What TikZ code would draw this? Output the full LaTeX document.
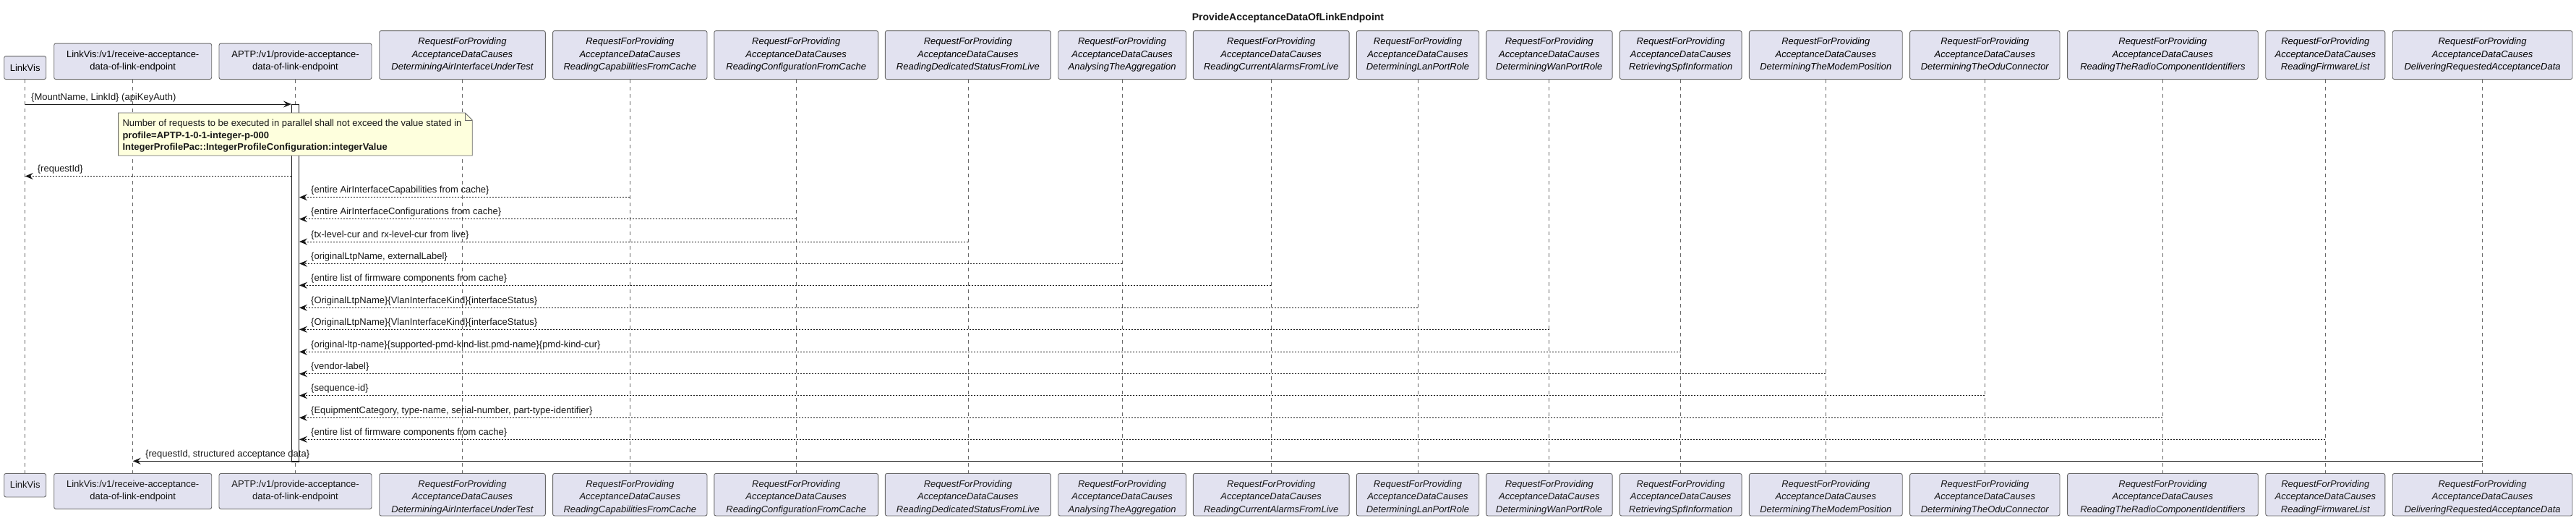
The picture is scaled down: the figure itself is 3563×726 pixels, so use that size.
\documentclass[tikz,border=0pt]{standalone}
\usepackage{fontspec}
\setmainfont{Liberation Sans}
\usetikzlibrary{arrows.meta}
\definecolor{partfill}{HTML}{E2E2F0}
\definecolor{notefill}{HTML}{FEFFDD}
\definecolor{ink}{HTML}{181818}
\definecolor{framec}{HTML}{686868}
\tikzset{
  part/.style={draw=framec, fill=partfill, rounded corners=2.5pt, line width=0.9pt,
    align=center, inner sep=0pt},
  ptext/.style={align=center, inner sep=0pt, text=ink},
  up/.style={font=\fontsize{13}{17.5}\selectfont},
  it/.style={font=\fontsize{13}{17.5}\selectfont\itshape},
  life/.style={draw=framec, line width=0.8pt, dash pattern=on 5pt off 5pt},
  msg/.style={draw=ink, line width=1pt, -{Stealth[length=11pt,width=9pt,inset=4pt]}},
  ret/.style={msg, dash pattern=on 2pt off 2pt},
  lbl/.style={anchor=base west, inner sep=0pt, font=\fontsize{13}{15}\selectfont, text=ink},
  actbar/.style={draw=ink, fill=white, line width=0.9pt, inner sep=0pt, minimum width=10pt},
}
\newcommand\rfp[1]{RequestForProviding\\AcceptanceDataCauses\\#1}
% id, x, width, top height, bottom height, text, text style
\newcommand\partic[7]{%
  \node[part, #7, minimum width=#3pt, minimum height=#4pt, anchor=south] (#1t) at (#2,110) {#6};
  \node[part, minimum width=#3pt, minimum height=#5pt, anchor=north] (#1b) at (#2,654) {};
  \node[ptext, #7] (#1bl) at (#2,654+#4/2) {#6};
  \draw[life] (#1t.south) -- (#1b.north);
}
\newcommand\retmsg[4]{% id, from node, y, label
  \draw[ret] (#2t.south |- 0,#3) -- (act.east |- 0,#3);
  \node[lbl] (#1) at (430,#3-6) {#4};
}
\begin{document}
\begin{tikzpicture}[x=1pt,y=-1pt]
\useasboundingbox[fill=white] (0,0) rectangle (3563,726);
\node[font=\bfseries\fontsize{14}{16}\selectfont, text=ink] (title) at (1781.5,25) {ProvideAcceptanceDataOfLinkEndpoint};
\partic{p1}{34.7}{58}{32}{32.5}{LinkVis}{up}
\partic{p2}{183.7}{218}{49.5}{49}{LinkVis:/v1/receive-acceptance-\\data-of-link-endpoint}{up}
\partic{p3}{408.5}{211}{49.5}{49}{APTP:/v1/provide-acceptance-\\data-of-link-endpoint}{up}
\partic{p4}{639.5}{229.6}{67}{58.5}{\rfp{DeterminingAirInterfaceUnderTest}}{it}
\partic{p5}{871.3}{213.4}{67}{58.5}{\rfp{ReadingCapabilitiesFromCache}}{it}
\partic{p6}{1101.2}{226.8}{67}{58.5}{\rfp{ReadingConfigurationFromCache}}{it}
\partic{p7}{1338.9}{229.1}{67}{58.5}{\rfp{ReadingDedicatedStatusFromLive}}{it}
\partic{p8}{1552.1}{176.8}{67}{58.5}{\rfp{AnalysingTheAggregation}}{it}
\partic{p9}{1758.2}{215.7}{67}{58.5}{\rfp{ReadingCurrentAlarmsFromLive}}{it}
\partic{p10}{1961}{169.4}{67}{58.5}{\rfp{DeterminingLanPortRole}}{it}
\partic{p11}{2142.8}{174.5}{67}{58.5}{\rfp{DeterminingWanPortRole}}{it}
\partic{p12}{2324.7}{168.7}{67}{58.5}{\rfp{RetrievingSpfInformation}}{it}
\partic{p13}{2525.3}{211.8}{67}{58.5}{\rfp{DeterminingTheModemPosition}}{it}
\partic{p14}{2745.3}{207.4}{67}{58.5}{\rfp{DeterminingTheOduConnector}}{it}
\partic{p15}{2991.4}{263.6}{67}{58.5}{\rfp{ReadingTheRadioComponentIdentifiers}}{it}
\partic{p16}{3216.3}{165.1}{67}{58.5}{\rfp{ReadingFirmwareList}}{it}
\partic{p17}{3433.6}{248.8}{67}{58.5}{\rfp{DeliveringRequestedAcceptanceData}}{it}
% activation bar
\node[actbar, minimum height=494pt, anchor=north] (act) at (408.5,143.5) {};
% note
\coordinate (nA) at (163.6,156);
\coordinate (nB) at (643.3,156);
\coordinate (nC) at (653.3,166);
\coordinate (nD) at (653.3,215);
\coordinate (nE) at (163.6,215);
\filldraw[fill=notefill, draw=framec, line width=0.8pt] (nA) -- (nB) -- (nC) -- (nD) -- (nE) -- cycle;
\draw[framec, line width=0.8pt] (nB) -- (643.3,166) -- (nC);
\node[anchor=north west, inner sep=0pt, align=left, text=ink, font=\fontsize{13}{16.5}\selectfont] (note) at (169.3,165)
  {Number of requests to be executed in parallel shall not exceed the value stated in\\
   \textbf{profile=APTP-1-0-1-integer-p-000}\\
   \textbf{IntegerProfilePac::IntegerProfileConfiguration:integerValue}};
% messages
\draw[msg] (p1t.south |- 0,144) -- (act.west |- 0,144);
\node[lbl] (m1) at (43,138) {\{MountName, LinkId\} (apiKeyAuth)};
\draw[ret] (act.west |- 0,243.5) -- (p1t.south |- 0,243.5);
\node[lbl] (m2) at (51.7,237.5) {\{requestId\}};
\retmsg{m3}{p5}{272.7}{\{entire AirInterfaceCapabilities from cache\}}
\retmsg{m4}{p6}{302.7}{\{entire AirInterfaceConfigurations from cache\}}
\retmsg{m5}{p7}{334}{\{tx-level-cur and rx-level-cur from live\}}
\retmsg{m6}{p8}{364.3}{\{originalLtpName, externalLabel\}}
\retmsg{m7}{p9}{394.3}{\{entire list of firmware components from cache\}}
\retmsg{m8}{p10}{425.3}{\{OriginalLtpName\}\{VlanInterfaceKind\}\{interfaceStatus\}}
\retmsg{m9}{p11}{455.3}{\{OriginalLtpName\}\{VlanInterfaceKind\}\{interfaceStatus\}}
\retmsg{m10}{p12}{486.3}{\{original-ltp-name\}\{supported-pmd-kind-list.pmd-name\}\{pmd-kind-cur\}}
\retmsg{m11}{p13}{516.7}{\{vendor-label\}}
\retmsg{m12}{p14}{546.7}{\{sequence-id\}}
\retmsg{m13}{p15}{577.3}{\{EquipmentCategory, type-name, serial-number, part-type-identifier\}}
\retmsg{m14}{p16}{607.3}{\{entire list of firmware components from cache\}}
\draw[msg] (p17t.south |- 0,637.3) -- (p2t.south |- 0,637.3);
\node[lbl] (m15) at (201,631.3) {\{requestId, structured acceptance data\}};
\end{tikzpicture}
\end{document}
